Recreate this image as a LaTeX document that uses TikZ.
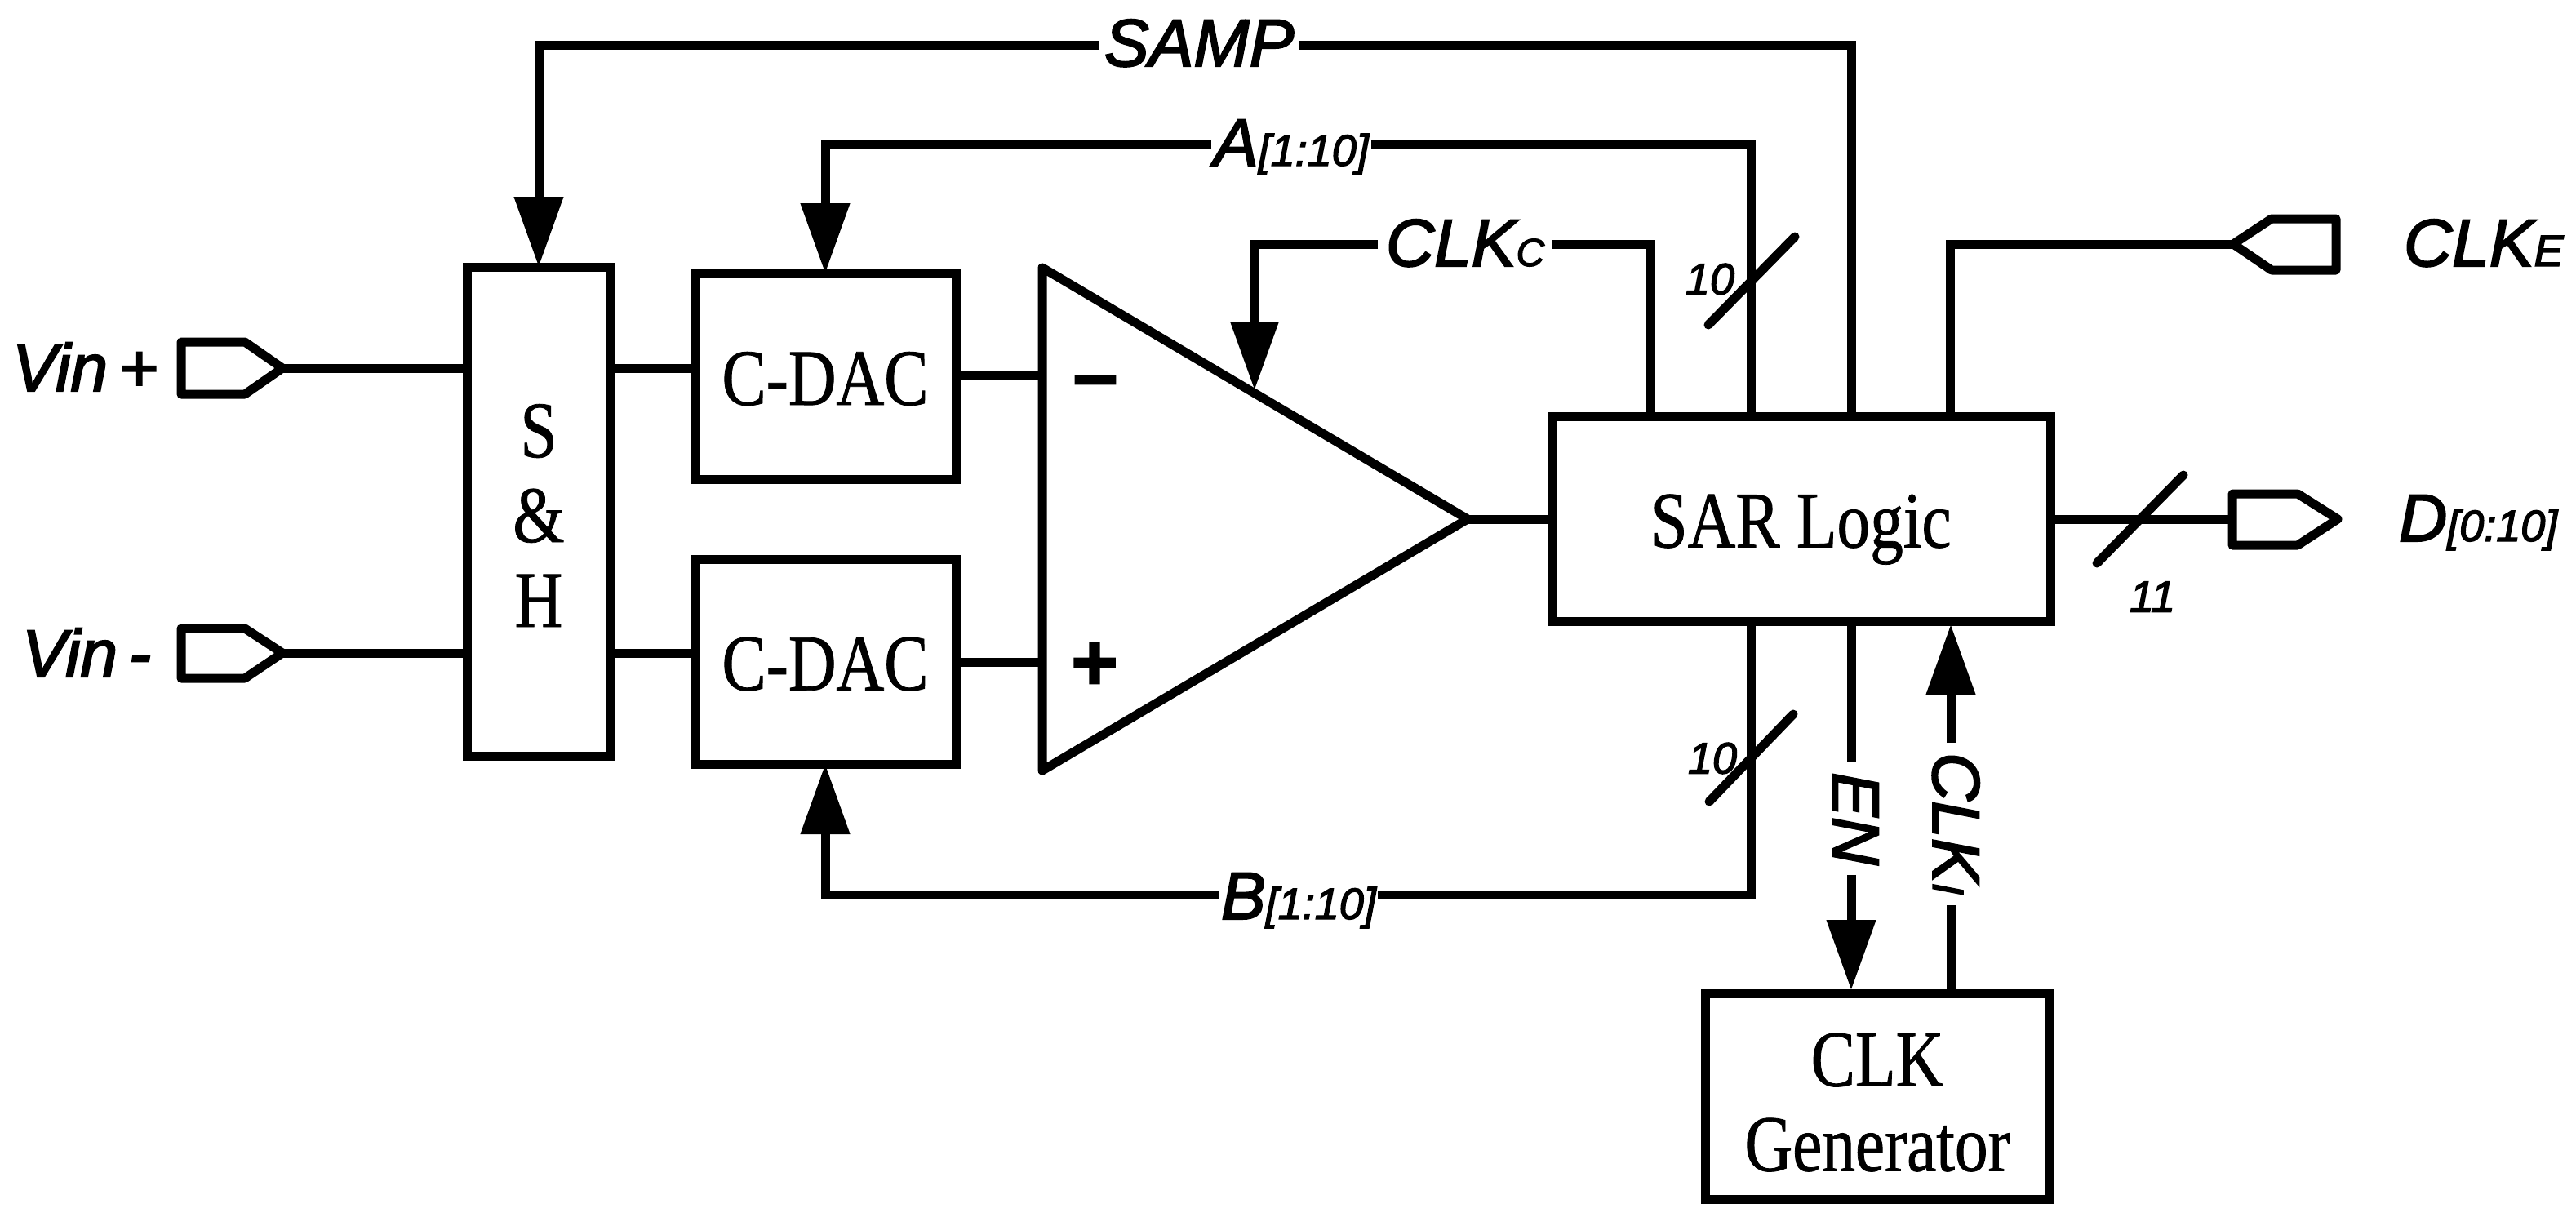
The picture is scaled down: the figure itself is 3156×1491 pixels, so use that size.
\documentclass[tikz,border=0pt]{standalone}
\usepackage{fontspec}
\usetikzlibrary{arrows.meta}
\newfontfamily\boxfont[FakeStretch=0.83,FakeBold=0.8]{Liberation Serif}
\newfontfamily\labfont[FakeBold=2.5]{Liberation Sans}
\newcommand{\subf}{\fontsize{54}{57}\selectfont}
\newcommand{\subc}{\fontsize{48}{50}\selectfont}
\tikzset{
  wire/.style={line width=11pt,line join=miter},
  arrowed/.style={wire,-{Triangle[length=86pt,width=58pt]}},
  block/.style={draw,line width=11pt,inner sep=0pt,outer sep=0pt,align=center,
    font=\boxfont\fontsize{98}{104}\selectfont},
  oneline/.style={text height=70pt,text depth=0pt},
  sig/.style={inner sep=0pt,outer sep=0pt,font=\labfont\itshape\fontsize{82}{84}\selectfont},
  sigv/.style={sig,rotate=-90},
  busn/.style={inner sep=0pt,outer sep=0pt,font=\labfont\itshape\fontsize{54}{56}\selectfont},
  signmark/.style={inner sep=0pt,outer sep=0pt,font=\labfont\bfseries\fontsize{98}{100}\selectfont},
  slash/.style={wire,line cap=round},
  port/.style={line width=11pt,line join=round,fill=white}
}
\begin{document}
\begin{tikzpicture}[x=1pt,y=-1pt]
\useasboundingbox (0,0) rectangle (3156,1491);
% blocks
\node[block,minimum width=176pt,minimum height=599pt] (sh) at (660,626.5) {\rule{0pt}{75pt}S\\\&\\H};
\node[block,oneline,minimum width=320pt,minimum height=252pt] (dacp) at (1011,461) {C-DAC};
\node[block,oneline,minimum width=320pt,minimum height=251pt] (dacn) at (1011,810.5) {C-DAC};
\node[block,oneline,minimum width=611pt,minimum height=251pt] (sar) at (2206.5,635.5) {SAR Logic};
\node[block,minimum width=422pt,minimum height=252pt] (gen) at (2300,1343) {\rule{0pt}{80pt}CLK\\Generator};
% comparator
\coordinate (cmpa) at (1277,328);
\coordinate (cmpb) at (1277,944);
\coordinate (cmpo) at (1798,636);
\coordinate (cmpm) at (1277,460);
\coordinate (cmpp) at (1277,811);
\draw[wire,line join=round] (cmpa) -- (cmpo) -- (cmpb) -- cycle;
\node[signmark] (minus) at (1342,476) {–};
\node[signmark] (plus) at (1341,816) {+};
% signal labels
\node[sig,anchor=base west] (vinp) at (15,479) {Vin\,+};
\node[sig,anchor=base west] (vinn) at (27,829) {Vin\,-};
\node[sig,anchor=base west,inner xsep=6pt] (samp) at (1347,81) {SAMP};
\node[sig,anchor=base west,inner xsep=3pt] (alab) at (1484,203) {A{\subf[1:10]}};
\node[sig,anchor=base west,inner xsep=2pt] (blab) at (1494,1126) {B{\subf[1:10]}};
\node[sig,anchor=base west,inner xsep=10pt] (clkc) at (1688,326) {CLK{\subc C}};
\node[sig,anchor=base west] (clke) at (2945,326) {CLK{\subf E}};
\node[sig,anchor=base west] (dout) at (2939,663) {D{\subf[0:10]}};
\node[sigv,anchor=base west,inner xsep=12pt] (en) at (2245,934) {EN};
\node[sigv,anchor=base west,inner xsep=12pt] (clki) at (2368,910) {CLK{\subf I}};
\node[busn,anchor=center] (na) at (2095,342) {10};
\node[busn,anchor=center] (nb) at (2098,929) {10};
\node[busn,anchor=center] (nd) at (2637,731) {11};
% ports
\coordinate (pvinp) at (346,451);
\coordinate (pvinn) at (346,800);
\coordinate (pclke) at (2736,299);
\coordinate (pdout) at (2864,636);
\coordinate (pdin) at (2735,636);
\draw[port] (222,419) -- (300,419) -- (pvinp) -- (300,483) -- (222,483) -- cycle;
\draw[port] (222,770) -- (300,770) -- (pvinn) -- (300,831) -- (222,831) -- cycle;
\draw[port] (2862,268) -- (2783,268) -- (pclke) -- (2783,331) -- (2862,331) -- cycle;
\draw[port] (2735,605) -- (2815,605) -- (pdout) -- (2815,668) -- (2735,668) -- cycle;
% plain wires
\draw[wire] (pvinp) -- (sh.west |- pvinp);
\draw[wire] (pvinn) -- (sh.west |- pvinn);
\draw[wire] (sh.east |- pvinp) -- (dacp.west |- pvinp);
\draw[wire] (sh.east |- pvinn) -- (dacn.west |- pvinn);
\draw[wire] (dacp.east |- cmpm) -- (cmpm);
\draw[wire] (dacn.east |- cmpp) -- (cmpp);
\draw[wire] (cmpo) -- (sar.west |- cmpo);
\draw[wire] (sar.east |- cmpo) -- (pdin);
% routed wires
\coordinate (ysamp) at (660,55);
\coordinate (ya) at (1011,176);
\coordinate (yb) at (1011,1096);
\coordinate (yc) at (1537,299);
\coordinate (tipc) at (1537,478);
\coordinate (sarsamp) at (2268,510);
\coordinate (sara) at (2145,510);
\coordinate (sarc) at (2022,510);
\coordinate (sare) at (2389,510);
\coordinate (sarb) at (2145,761);
\coordinate (saren) at (2268,761);
\coordinate (sari) at (2390,765);
\coordinate (genen) at (2268,1213);
\coordinate (geni) at (2390,1217);
\draw[wire] (sarsamp) |- (samp.east |- ysamp);
\draw[arrowed] (samp.west |- ysamp) -| (sh.north);
\draw[wire] (sara) |- (alab.east |- ya);
\draw[arrowed] (alab.west |- ya) -| (dacp.north);
\draw[wire] (sarb) |- (blab.east |- yb);
\draw[arrowed] (blab.west |- yb) -| (dacn.south);
\draw[wire] (sarc) |- (clkc.east |- yc);
\draw[arrowed,-{Triangle[length=83pt,width=56pt]}] (clkc.west |- yc) -| (tipc);
\draw[wire] (sare) |- (pclke);
\draw[wire] (saren) -- (en.west -| saren);
\draw[arrowed] (en.east -| saren) -- (genen);
\draw[wire] (geni) -- (clki.east -| geni);
\draw[arrowed] (clki.west -| geni) -- (sari);
% bus slashes
\coordinate (sa1) at (2093,398); \coordinate (sa2) at (2199,290);
\coordinate (sb1) at (2094,982); \coordinate (sb2) at (2197,875);
\coordinate (sd1) at (2569,690); \coordinate (sd2) at (2675,582);
\draw[slash] (sa1) -- (sa2);
\draw[slash] (sb1) -- (sb2);
\draw[slash] (sd1) -- (sd2);
\end{tikzpicture}
\end{document}
